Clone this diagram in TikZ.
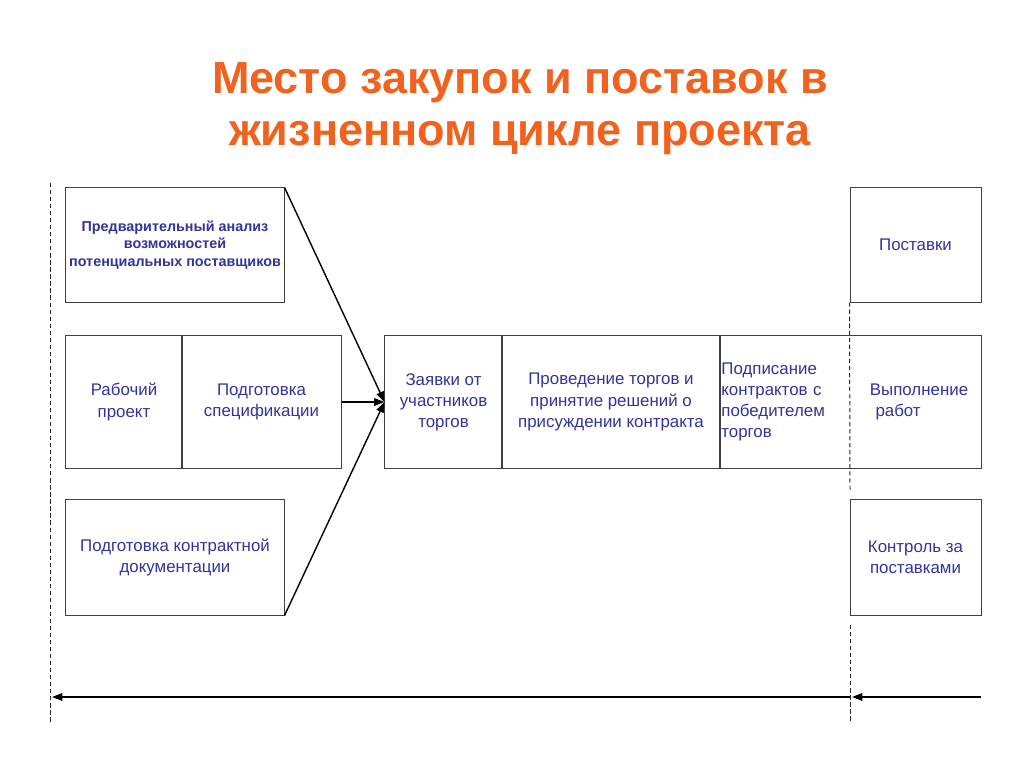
\documentclass[tikz,border=0pt]{standalone}
\usepackage{fontspec}
\setmainfont{Liberation Sans}
\usetikzlibrary{arrows.meta,positioning}
\definecolor{ttl}{RGB}{240,98,30}
\definecolor{txt}{RGB}{51,51,153}
\begin{document}
\begin{tikzpicture}[x=0.025cm, y=-0.025cm,
  box/.style={draw=black!75, line width=0.7pt, align=center, text=txt,
              font=\fontsize{12}{15}\selectfont, inner sep=1pt},
  bbox/.style={box, font=\fontsize{10.2}{12.3}\selectfont\bfseries},
  row/.style={minimum height=3.3cm},
  ar/.style={-{Triangle[length=2.6mm,width=1.9mm]}, line width=1pt},
  sep/.style={dashed, dash pattern=on 3pt off 2pt, line width=0.7pt, black!85}]
\useasboundingbox (0,0) rectangle (1024,767);
% title
\node[text=ttl, align=center, font=\fontsize{32}{37}\selectfont\bfseries]
  (title) at (520,109) {Место закупок и поставок в\\жизненном цикле проекта};
% left column
\node[bbox, minimum width=5.45cm, minimum height=2.85cm] (an) at (175,245)
  {Предварительный анализ\\возможностей\\потенциальных поставщиков};
\node[box, row, minimum width=2.9cm] (rp) at (124,402) {Рабочий\\проект};
\node[box, row, minimum width=3.975cm] (sp) at (261.5,402) {Подготовка\\спецификации};
\node[box, minimum width=5.45cm, minimum height=2.875cm] (doc) at (175,557.5)
  {Подготовка контрактной\\документации};
% right column
\node[box, minimum width=3.275cm, minimum height=2.85cm] (sup) at (915.5,245) {Поставки};
\node[box, minimum width=3.275cm, minimum height=2.875cm] (ctl) at (915.5,557.5)
  {Контроль за\\поставками};
% middle row
\node[box, row, minimum width=2.925cm] (bid) at (443.5,402) {Заявки от\\участников\\торгов};
\node[box, row, minimum width=5.45cm] (tnd) at (611,402)
  {Проведение торгов и\\принятие решений о\\присуждении контракта};
\node[box, row, draw=none, minimum width=3.25cm, text width=3.25cm-2pt, align=left]
  (sig) at (785,402) {Подписание\\контрактов с\\победителем\\торгов};
\node[box, row, draw=none, align=left] (wrk) at (919,402)
  {Выполнение\\\hspace*{4pt}работ};
\draw[black!75, line width=0.7pt] (sig.north west) rectangle (sig.south west -| sup.east);
% separators
\coordinate (l1) at (50,183);
\coordinate (l2) at (50,722);
\coordinate (r1) at (850,490);
\coordinate (r2) at (850,625);
\coordinate (r3) at (850,722);
\draw[sep] (l1) -- (l2);
\draw[sep] (sup.south west) -- (r1);
\draw[sep] (r2) -- (r3);
% connectors
\draw[ar] (an.north east) -- (bid.west);
\draw[ar] (sp) -- (bid);
\draw[ar] (doc.south east) -- (bid.west);
% time line
\coordinate (t0) at (52,697);
\coordinate (t1) at (850,697);
\coordinate (t2) at (852,697);
\coordinate (t3) at (981,697);
\draw[ar] (t1) -- (t0);
\draw[ar] (t3) -- (t2);
\end{tikzpicture}
\end{document}
